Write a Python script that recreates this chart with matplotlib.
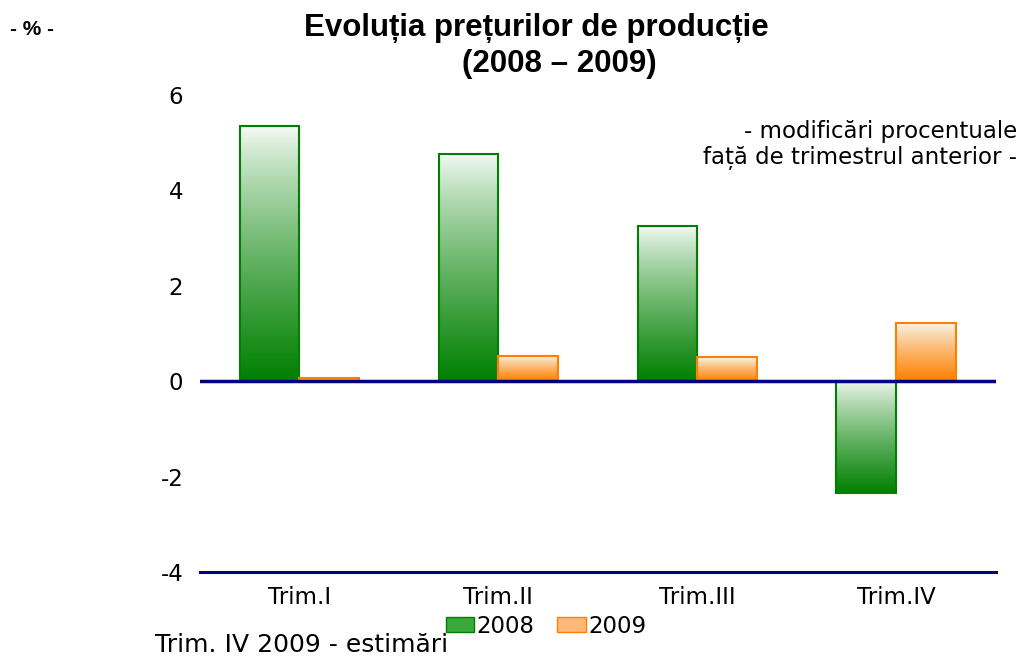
import matplotlib.pyplot as plt
import numpy as np
from matplotlib.patches import Patch
from matplotlib.font_manager import FontProperties

plt.rcParams['font.family'] = ['DejaVu Sans']
plt.rcParams['axes.unicode_minus'] = False

categories = ['Trim.I', 'Trim.II', 'Trim.III', 'Trim.IV']
values_2008 = [5.34, 4.77, 3.26, -2.35]
values_2009 = [0.07, 0.53, 0.50, 1.22]
years = ['2008', '2009']
yticks = [-4, -2, 0, 2, 4, 6]


def gradient_fill(ax, bars, dark):
    # light at top, dark colour at bottom, clipped to each bar
    rgb = np.array(plt.matplotlib.colors.to_rgb(dark))
    t = np.linspace(0, 1, 256)[:, None] ** 0.8
    img = (1 - t) * np.array([0.97, 0.99, 0.97]) + t * rgb
    img = img[:, None, :]
    for b in bars:
        x0, y0 = b.get_x(), b.get_y()
        w, h = b.get_width(), b.get_height()
        lo, hi = min(y0, y0 + h), max(y0, y0 + h)
        im = ax.imshow(img, extent=(x0, x0 + w, lo, hi), origin='upper',
                       aspect='auto', zorder=2, interpolation='bilinear')
        im.set_clip_path(b)


def bold(size):
    return FontProperties(family=['Liberation Sans', 'DejaVu Sans'],
                          weight='bold', size=size)


fig = plt.figure(figsize=(10.36, 6.59), dpi=100)
ax = fig.add_axes([0.193, 0.132, 0.768, 0.724])

x = np.arange(len(categories))
w = 0.3
b1 = ax.bar(x - w / 2, values_2008, w, facecolor='none', edgecolor='#008000',
            linewidth=1.5, zorder=3)
b2 = ax.bar(x + w / 2, values_2009, w, facecolor='none', edgecolor='#ff8000',
            linewidth=1.5, zorder=3)
gradient_fill(ax, b1, '#008000')
gradient_fill(ax, b2, '#ff8000')

ax.axhline(0, color='#000080', linewidth=2.5, zorder=4)
ax.set_xlim(-0.5, 3.5)
ax.set_ylim(-4, 6)
ax.set_yticks(yticks)
ax.set_xticks(x)
ax.set_xticklabels(categories)
ax.tick_params(axis='both', length=0, labelsize=16.5)
ax.tick_params(axis='y', pad=12)
ax.tick_params(axis='x', pad=10)
for s in ['top', 'right', 'left']:
    ax.spines[s].set_visible(False)
ax.spines['bottom'].set_color('#000080')
ax.spines['bottom'].set_linewidth(2.2)

fig.text(0.518, 0.958, 'Evoluția prețurilor de producție', ha='center', va='center',
         fontproperties=bold(22.5))
fig.text(0.54, 0.903, '(2008 – 2009)', ha='center', va='center',
         fontproperties=bold(22.5))
fig.text(0.01, 0.955, '- % -', ha='left', va='center', fontproperties=bold(15))
fig.text(0.982, 0.78, '- modificări procentuale\nfață de trimestrul anterior -',
         ha='right', va='center', fontsize=16.5, linespacing=1.15)
fig.text(0.15, 0.003, 'Trim. IV 2009 - estimări', ha='left', va='bottom', fontsize=18)

handles = [Patch(facecolor='#3aa83a', edgecolor='#008000', label=years[0]),
           Patch(facecolor='#ffb878', edgecolor='#ff8000', label=years[1])]
fig.legend(handles=handles, loc='center', bbox_to_anchor=(0.527, 0.05), ncol=2,
           frameon=False, fontsize=16.5, handlelength=1.25, handleheight=0.65,
           handletextpad=0.1, columnspacing=1.0, borderpad=0)

fig.savefig('out.png', dpi=100)
